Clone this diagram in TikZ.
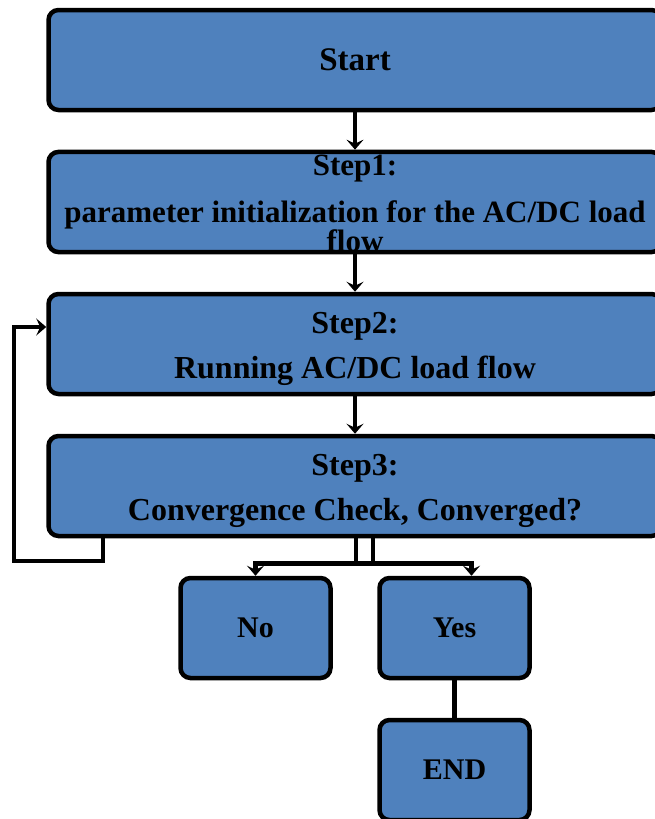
\documentclass[tikz,border=0pt]{standalone}
\usepackage{fontspec}
\setmainfont{Liberation Serif}
\usetikzlibrary{arrows.meta}
\definecolor{boxblue}{HTML}{4F81BD}
\tikzset{
  block/.style={draw,line width=4.5pt,rounded corners=10pt,fill=boxblue,
    minimum width=613pt,minimum height=100pt,inner sep=0pt,align=center,
    font=\bfseries\fontsize{32}{45}\selectfont},
  smallblock/.style={block,minimum width=150pt,
    font=\bfseries\fontsize{30}{36}\selectfont},
  arr/.style={line width=4.5pt,-{Stealth[length=10pt,width=17pt,inset=4pt]}},
  plain/.style={line width=4.5pt}
}
\begin{document}
\begin{tikzpicture}[x=1pt,y=-1pt]
		\useasboundingbox (0,0) rectangle (655,819);
		\node[block,font=\bfseries\fontsize{33}{40}\selectfont] (start) at (355,60) {Start};
		\node[block,font=\bfseries\fontsize{31}{27}\selectfont] (init) at (355,202)
		  {\rule{0pt}{24pt}Step1:\\[17pt] parameter initialization for the AC/DC load\\ flow};
		\node[block] (run) at (355,344) {\rule{0pt}{32pt}Step2:\\ Running AC/DC load flow};
		\node[block] (check) at (355,486) {\rule{0pt}{32pt}Step3:\\ Convergence Check, Converged?};
		\node[smallblock] (no) at (255.5,628) {No};
		\node[smallblock] (yes) at (454.5,628) {Yes};
		\node[smallblock] (end) at (454.5,770) {END};
		\coordinate (back) at (14,561);
		\draw[arr] (start) -- (init);
		\draw[arr] (init) -- (run);
		\draw[arr] (run) -- (check);
		\draw[arr] ([xshift=-252pt]check.south) |- (back) |- ([yshift=17pt]run.west);
		\draw[arr] ([xshift=1pt]check.south) -- ++(0,25) -| ([xshift=17pt]yes.north);
		\draw[arr] ([xshift=18pt]check.south) -- ++(0,25) -| (no.north);
		\draw[plain] (yes) -- (end);
\end{tikzpicture}
\end{document}
